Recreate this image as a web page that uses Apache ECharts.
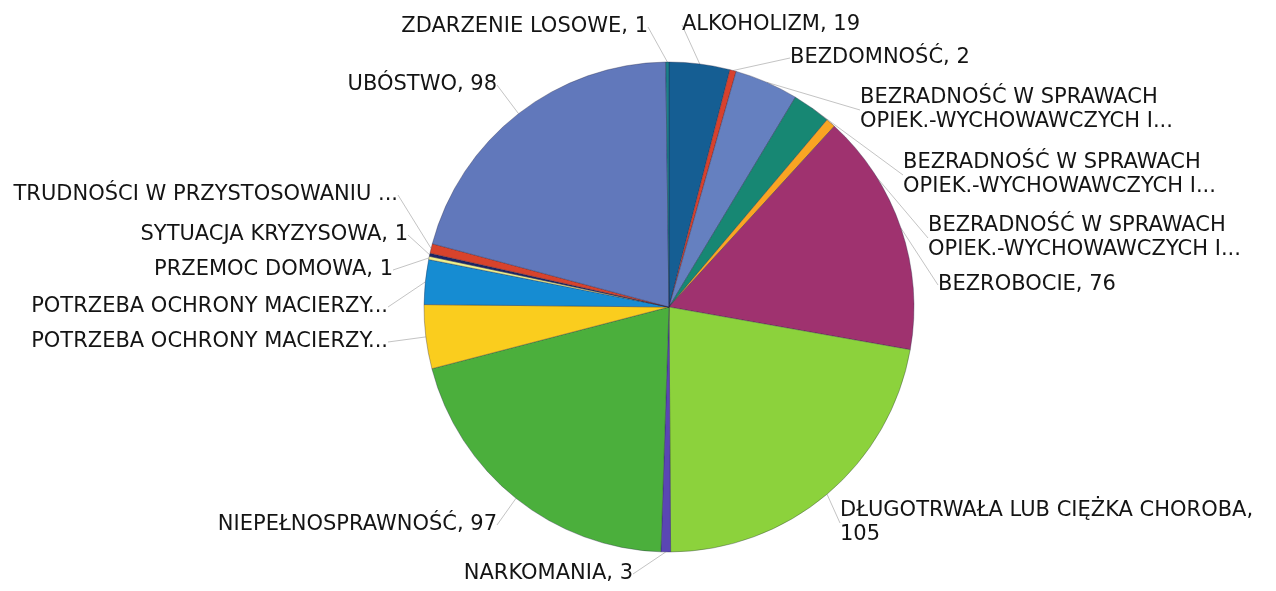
<!DOCTYPE html>
<html>
<head>
<meta charset="utf-8">
<script src="https://cdn.jsdelivr.net/npm/echarts@6/dist/echarts.min.js"></script>
<style>
html,body{margin:0;padding:0;background:#fff;}
#c{width:1276px;height:591px;}
</style>
</head>
<body>
<div id="c"></div>
<script>
// Data (clockwise from 12 o'clock)
const categories = [
  'ALKOHOLIZM',
  'BEZDOMNOŚĆ',
  'BEZRADNOŚĆ W SPRAWACH\nOPIEK.-WYCHOWAWCZYCH I...',
  'BEZRADNOŚĆ W SPRAWACH\nOPIEK.-WYCHOWAWCZYCH I...',
  'BEZRADNOŚĆ W SPRAWACH\nOPIEK.-WYCHOWAWCZYCH I...',
  'BEZROBOCIE',
  'DŁUGOTRWAŁA LUB CIĘŻKA CHOROBA',
  'NARKOMANIA',
  'NIEPEŁNOSPRAWNOŚĆ',
  'POTRZEBA OCHRONY MACIERZY...',
  'POTRZEBA OCHRONY MACIERZY...',
  'PRZEMOC DOMOWA',
  'SYTUACJA KRYZYSOWA',
  'TRUDNOŚCI W PRZYSTOSOWANIU ...',
  'UBÓSTWO',
  'ZDARZENIE LOSOWE'
];
const values = [19, 2, 20, 12, 3, 76, 105, 3, 97, 20, 14, 1, 1, 3, 98, 1];
const colors = [
  '#155e93', '#d7412d', '#6580c0', '#178773', '#f9a523', '#9f326f',
  '#8cd23c', '#5a46b4', '#4baf3c', '#facd1e', '#168cd2', '#f0f08c',
  '#1b2566', '#d8432c', '#6178bb', '#1a7f8a'
];

// Label anchor placement (layout only)
const labelPlace = [
  [682, 25, 'left'],
  [790, 58, 'left'],
  [860, 110, 'left'],
  [903, 175, 'left'],
  [928, 238, 'left'],
  [938, 285, 'left'],
  [840, 523, 'left'],
  [633, 574, 'right'],
  [497, 525, 'right'],
  [388, 342, 'right'],
  [388, 307, 'right'],
  [393, 270, 'right'],
  [408, 235, 'right'],
  [398, 195, 'right'],
  [497, 85, 'right'],
  [648, 27, 'right']
];

const chart = echarts.init(document.getElementById('c'), null, {renderer: 'canvas'});
const pieData = categories.map((n, i) => ({
  name: n,
  value: values[i],
  itemStyle: {color: colors[i]}
}));

chart.setOption({
  backgroundColor: '#ffffff',
  animation: false,
  series: [{
    type: 'pie',
    center: [669, 307],
    radius: 245,
    startAngle: 90,
    clockwise: true,
    avoidLabelOverlap: false,
    itemStyle: {borderColor: 'rgba(30,30,60,0.55)', borderWidth: 0.6},
    label: {
      show: true,
      position: 'outside',
      fontFamily: 'DejaVu Sans',
      fontSize: 21,
      lineHeight: 24,
      color: '#141414',
      formatter: function (p) {
        if (p.name.indexOf('...') >= 0) return p.name;
        return p.name.length > 25 ? p.name + ',\n' + p.value : p.name + ', ' + p.value;
      }
    },
    labelLine: {
      show: true,
      length: 10,
      length2: 0,
      lineStyle: {color: '#c4c4c4', width: 1}
    },
    labelLayout: function (params) {
      const lp = labelPlace[params.dataIndex];
      return {x: lp[0], y: lp[1], align: lp[2], verticalAlign: 'middle', moveOverlap: false, hideOverlap: false};
    },
    data: pieData
  }]
});
</script>
</body>
</html>
